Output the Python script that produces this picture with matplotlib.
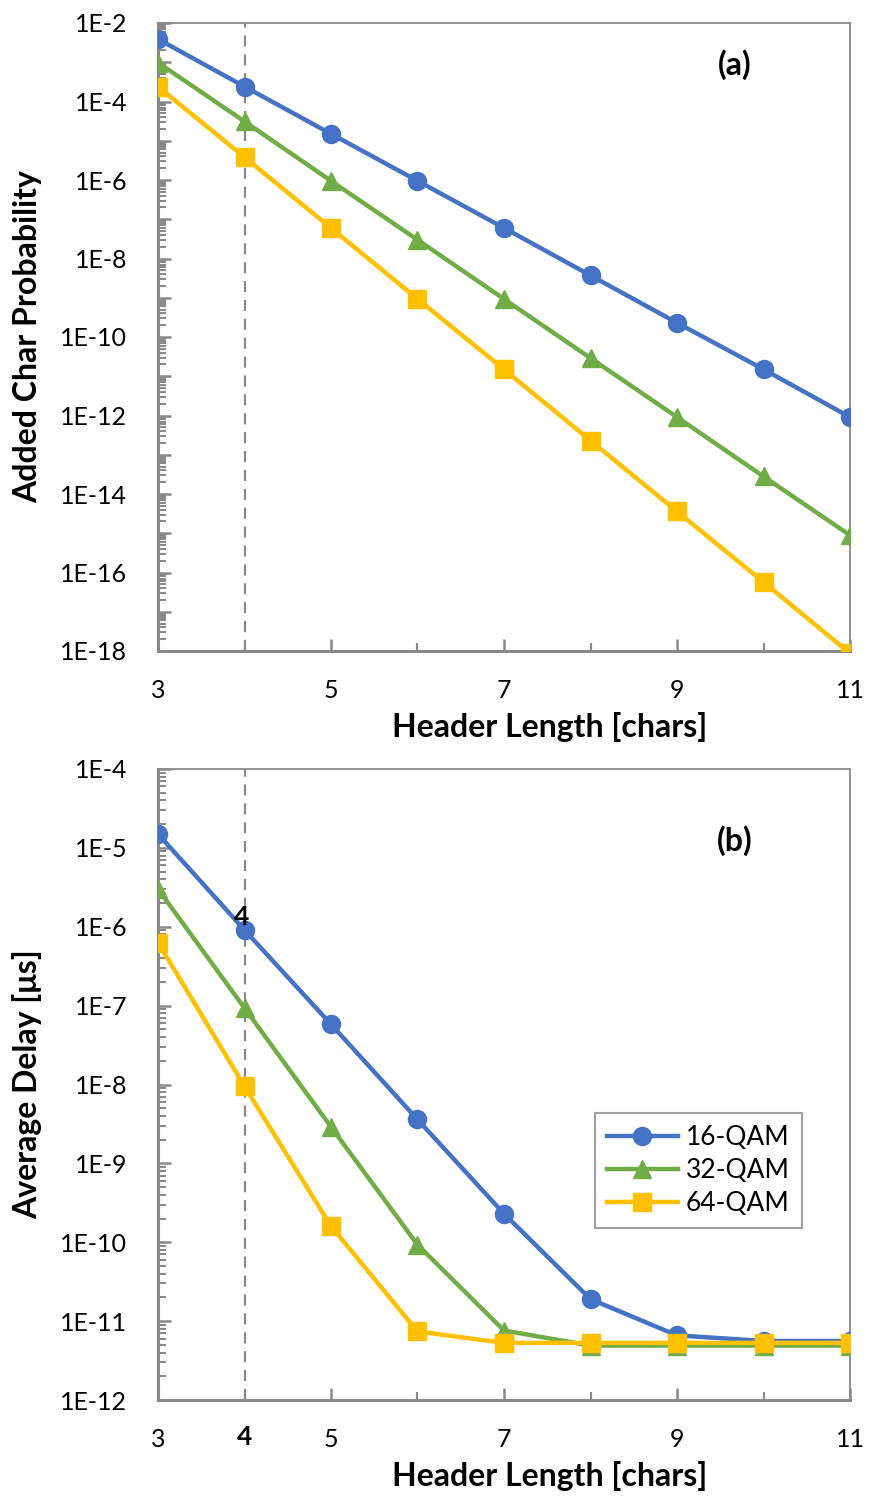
import math
import matplotlib
matplotlib.use('Agg')
import matplotlib.pyplot as plt
import matplotlib.ticker as mticker
import matplotlib.transforms as mtrans

plt.rcParams['font.family'] = ['Lato', 'DejaVu Sans']

hdr = [3, 4, 5, 6, 7, 8, 9, 10, 11]
names = ['16-QAM', '32-QAM', '64-QAM']
colors = ['#4472C4', '#70AD47', '#FFC000']
marks = ['o', '^', 's']

# added char probability vs header length
prob16 = [3.9e-3, 2.4e-4, 1.5e-5, 9.5e-7, 6.0e-8, 3.7e-9, 2.3e-10, 1.5e-11, 9.1e-13]
prob32 = [9.8e-4, 3.1e-5, 9.5e-7, 3.0e-8, 9.3e-10, 2.9e-11, 9.1e-13, 2.8e-14, 8.9e-16]
prob64 = [2.4e-4, 3.8e-6, 6.0e-8, 9.3e-10, 1.5e-11, 2.3e-13, 3.6e-15, 5.7e-17, 8.7e-19]

# average delay vs header length
delay16 = [1.5e-5, 9.1e-7, 5.8e-8, 3.6e-9, 2.3e-10, 1.9e-11, 6.6e-12, 5.6e-12, 5.6e-12]
delay32 = [3.0e-6, 9.3e-8, 2.9e-9, 9.3e-11, 7.6e-12, 4.9e-12, 4.9e-12, 4.9e-12, 4.9e-12]
delay64 = [6.3e-7, 9.5e-9, 1.6e-10, 7.4e-12, 5.3e-12, 5.3e-12, 5.3e-12, 5.3e-12, 5.3e-12]

gray = '#898989'
fs_tick = 18
fs_lab = 23

fig = plt.figure(figsize=(8.69, 14.97), dpi=100)
W, H = 869, 1497
ax1 = fig.add_axes([158 / W, 1 - 651 / H, 692 / W, 628 / H])
ax2 = fig.add_axes([158 / W, 1 - 1400 / H, 692 / W, 631 / H])


def style(ax, ylo, yhi, every):
    ax.set_yscale('log')
    ax.set_xlim(3, 11)
    ax.set_ylim(ylo, yhi)
    for s in ax.spines.values():
        s.set_color(gray)
    ax.spines['left'].set_linewidth(2.2)
    ax.spines['bottom'].set_linewidth(2.2)
    ax.spines['top'].set_linewidth(1.3)
    ax.spines['right'].set_linewidth(1.3)
    ax.xaxis.set_major_locator(mticker.FixedLocator([3, 5, 7, 9, 11]))
    ax.xaxis.set_minor_locator(mticker.FixedLocator([4, 6, 8, 10]))
    ax.yaxis.set_major_locator(mticker.LogLocator(base=10, numticks=40))
    ax.yaxis.set_minor_locator(mticker.LogLocator(base=10, subs=range(2, 10), numticks=40))
    ax.yaxis.set_minor_formatter(mticker.NullFormatter())

    def efmt(v, pos):
        e = int(round(math.log10(v)))
        if e % every:
            return ''
        return '1E%d' % e
    ax.yaxis.set_major_formatter(mticker.FuncFormatter(efmt))
    ax.tick_params(which='both', direction='in', color=gray, labelsize=fs_tick)
    ax.tick_params(which='major', length=9, width=1.8)
    ax.tick_params(which='minor', length=6, width=1.5)
    ax.tick_params(axis='x', which='major', pad=20)
    ax.tick_params(axis='y', which='major', pad=22)
    ax.axvline(4, color=gray, lw=1.6, ls=(0, (5, 3.5)), zorder=1)
    ax.set_xlabel('Header Length [chars]', fontsize=fs_lab, fontweight='bold')


style(ax1, 1e-18, 1e-2, 2)
style(ax2, 1e-12, 1e-4, 1)

for ys, nm, c, m in zip([prob16, prob32, prob64], names, colors, marks):
    ax1.plot(hdr, ys, color=c, marker=m, lw=3.2, ms=13, label=nm, zorder=3)
for ys, nm, c, m in zip([delay16, delay32, delay64], names, colors, marks):
    ax2.plot(hdr, ys, color=c, marker=m, lw=3.2, ms=13, label=nm, zorder=3)

ax1.set_ylabel('Added Char Probability', fontsize=fs_lab, fontweight='bold')
ax2.set_ylabel('Average Delay [μs]', fontsize=fs_lab, fontweight='bold')
ax1.xaxis.set_label_coords(0.566, -0.097)
ax2.xaxis.set_label_coords(0.566, -0.097)
ax1.yaxis.set_label_coords(-0.168, 0.5)
ax2.yaxis.set_label_coords(-0.168, 0.5)

ax1.text(0.834, 0.933, '(a)', transform=ax1.transAxes, fontsize=fs_lab,
         fontweight='bold', ha='center', va='center')
ax2.text(0.834, 0.887, '(b)', transform=ax2.transAxes, fontsize=fs_lab,
         fontweight='bold', ha='center', va='center')

# marker for the chosen header length
ax2.annotate('4', (4, delay16[1]), xytext=(-2, 9), textcoords='offset points',
             fontsize=fs_tick + 1, fontweight='bold', ha='center', va='center')
tr = mtrans.blended_transform_factory(ax2.transData, ax2.transAxes)
ax2.text(4, -0.059, '4', transform=tr, fontsize=fs_tick + 1, fontweight='bold',
         ha='center', va='center')

leg = ax2.legend(loc='upper right', bbox_to_anchor=(0.949, 0.475), fontsize=19,
                 frameon=True, fancybox=False, borderpad=0.45, handlelength=2.7,
                 labelspacing=0.3, handletextpad=0.3)
leg.get_frame().set_edgecolor(gray)
leg.get_frame().set_linewidth(1.5)

fig.savefig('out.png', dpi=100)
